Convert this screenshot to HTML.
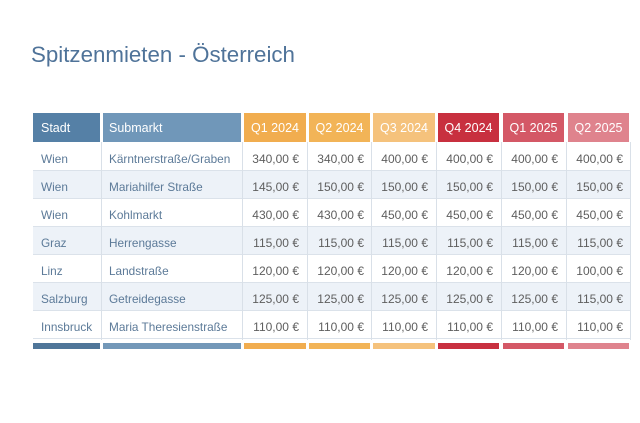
<!DOCTYPE html>
<html>
<head>
<meta charset="utf-8">
<style>
  html,body{margin:0;padding:0;background:#ffffff;}
  body{width:640px;height:423px;position:relative;overflow:hidden;font-family:"Liberation Sans",sans-serif;}
  .title{position:absolute;left:31px;top:42px;font-size:22.3px;color:#4f7399;white-space:nowrap;line-height:normal;}
  .h{position:absolute;top:113px;height:29px;line-height:30px;color:#fff;font-size:12.5px;white-space:nowrap;box-sizing:border-box;}
  .bar{position:absolute;top:343px;height:6px;}
  .row{position:absolute;left:33px;width:598px;height:28px;border-bottom:1px solid #dbe2ea;box-sizing:border-box;}
  .vl{position:absolute;top:142px;height:198px;width:1px;background:#d9e0e8;}
  .c{position:absolute;height:28px;line-height:33px;font-size:12px;white-space:nowrap;box-sizing:border-box;}
  .city{color:#5c7a98;font-size:11.8px;}
  .val{color:#5e5e5e;text-align:right;}
</style>
</head>
<body>
<div class="title">Spitzenmieten - Österreich</div>

<!-- headers -->
<div class="h" style="left:33px;width:67px;background:#5580a6;padding-left:8px;">Stadt</div>
<div class="h" style="left:103px;width:138px;background:#7097b9;padding-left:6px;">Submarkt</div>
<div class="h" style="left:244px;width:62px;background:#f1ad4f;text-align:center;">Q1 2024</div>
<div class="h" style="left:309px;width:61px;background:#f2b457;text-align:center;">Q2 2024</div>
<div class="h" style="left:373px;width:62px;background:#f5c27c;text-align:center;">Q3 2024</div>
<div class="h" style="left:438px;width:61px;background:#c8303f;text-align:center;">Q4 2024</div>
<div class="h" style="left:503px;width:61px;background:#d45866;text-align:center;">Q1 2025</div>
<div class="h" style="left:568px;width:61px;background:#df838d;text-align:center;">Q2 2025</div>

<!-- rows -->
<div class="row" style="top:143px;background:#ffffff;"></div>
<div class="row" style="top:171px;background:#edf2f8;"></div>
<div class="row" style="top:199px;background:#ffffff;"></div>
<div class="row" style="top:227px;background:#edf2f8;"></div>
<div class="row" style="top:255px;background:#ffffff;"></div>
<div class="row" style="top:283px;background:#edf2f8;"></div>
<div class="row" style="top:311px;background:#ffffff;"></div>

<!-- vertical lines -->
<div class="vl" style="left:101px;"></div>
<div class="vl" style="left:242px;"></div>
<div class="vl" style="left:307px;"></div>
<div class="vl" style="left:371px;"></div>
<div class="vl" style="left:436px;"></div>
<div class="vl" style="left:501px;"></div>
<div class="vl" style="left:566px;"></div>
<div class="vl" style="left:630px;"></div>

<!-- row 1 -->
<div class="c city" style="top:143px;left:41px;">Wien</div>
<div class="c city" style="top:143px;left:109px;">Kärntnerstraße/Graben</div>
<div class="c val" style="top:143px;left:244px;width:55px;">340,00 €</div>
<div class="c val" style="top:143px;left:309px;width:55px;">340,00 €</div>
<div class="c val" style="top:143px;left:373px;width:55px;">400,00 €</div>
<div class="c val" style="top:143px;left:438px;width:55px;">400,00 €</div>
<div class="c val" style="top:143px;left:503px;width:55px;">400,00 €</div>
<div class="c val" style="top:143px;left:568px;width:55px;">400,00 €</div>

<!-- row 2 -->
<div class="c city" style="top:171px;left:41px;">Wien</div>
<div class="c city" style="top:171px;left:109px;">Mariahilfer Straße</div>
<div class="c val" style="top:171px;left:244px;width:55px;">145,00 €</div>
<div class="c val" style="top:171px;left:309px;width:55px;">150,00 €</div>
<div class="c val" style="top:171px;left:373px;width:55px;">150,00 €</div>
<div class="c val" style="top:171px;left:438px;width:55px;">150,00 €</div>
<div class="c val" style="top:171px;left:503px;width:55px;">150,00 €</div>
<div class="c val" style="top:171px;left:568px;width:55px;">150,00 €</div>

<!-- row 3 -->
<div class="c city" style="top:199px;left:41px;">Wien</div>
<div class="c city" style="top:199px;left:109px;">Kohlmarkt</div>
<div class="c val" style="top:199px;left:244px;width:55px;">430,00 €</div>
<div class="c val" style="top:199px;left:309px;width:55px;">430,00 €</div>
<div class="c val" style="top:199px;left:373px;width:55px;">450,00 €</div>
<div class="c val" style="top:199px;left:438px;width:55px;">450,00 €</div>
<div class="c val" style="top:199px;left:503px;width:55px;">450,00 €</div>
<div class="c val" style="top:199px;left:568px;width:55px;">450,00 €</div>

<!-- row 4 -->
<div class="c city" style="top:227px;left:41px;">Graz</div>
<div class="c city" style="top:227px;left:109px;">Herrengasse</div>
<div class="c val" style="top:227px;left:244px;width:55px;">115,00 €</div>
<div class="c val" style="top:227px;left:309px;width:55px;">115,00 €</div>
<div class="c val" style="top:227px;left:373px;width:55px;">115,00 €</div>
<div class="c val" style="top:227px;left:438px;width:55px;">115,00 €</div>
<div class="c val" style="top:227px;left:503px;width:55px;">115,00 €</div>
<div class="c val" style="top:227px;left:568px;width:55px;">115,00 €</div>

<!-- row 5 -->
<div class="c city" style="top:255px;left:41px;">Linz</div>
<div class="c city" style="top:255px;left:109px;">Landstraße</div>
<div class="c val" style="top:255px;left:244px;width:55px;">120,00 €</div>
<div class="c val" style="top:255px;left:309px;width:55px;">120,00 €</div>
<div class="c val" style="top:255px;left:373px;width:55px;">120,00 €</div>
<div class="c val" style="top:255px;left:438px;width:55px;">120,00 €</div>
<div class="c val" style="top:255px;left:503px;width:55px;">120,00 €</div>
<div class="c val" style="top:255px;left:568px;width:55px;">100,00 €</div>

<!-- row 6 -->
<div class="c city" style="top:283px;left:41px;">Salzburg</div>
<div class="c city" style="top:283px;left:109px;">Getreidegasse</div>
<div class="c val" style="top:283px;left:244px;width:55px;">125,00 €</div>
<div class="c val" style="top:283px;left:309px;width:55px;">125,00 €</div>
<div class="c val" style="top:283px;left:373px;width:55px;">125,00 €</div>
<div class="c val" style="top:283px;left:438px;width:55px;">125,00 €</div>
<div class="c val" style="top:283px;left:503px;width:55px;">125,00 €</div>
<div class="c val" style="top:283px;left:568px;width:55px;">115,00 €</div>

<!-- row 7 -->
<div class="c city" style="top:311px;left:41px;">Innsbruck</div>
<div class="c city" style="top:311px;left:109px;">Maria Theresienstraße</div>
<div class="c val" style="top:311px;left:244px;width:55px;">110,00 €</div>
<div class="c val" style="top:311px;left:309px;width:55px;">110,00 €</div>
<div class="c val" style="top:311px;left:373px;width:55px;">110,00 €</div>
<div class="c val" style="top:311px;left:438px;width:55px;">110,00 €</div>
<div class="c val" style="top:311px;left:503px;width:55px;">110,00 €</div>
<div class="c val" style="top:311px;left:568px;width:55px;">110,00 €</div>

<!-- bottom bars -->
<div class="bar" style="left:33px;width:67px;background:#4f7699;"></div>
<div class="bar" style="left:103px;width:138px;background:#7398b8;"></div>
<div class="bar" style="left:244px;width:62px;background:#f1ad4f;"></div>
<div class="bar" style="left:309px;width:61px;background:#f2b457;"></div>
<div class="bar" style="left:373px;width:62px;background:#f5c27c;"></div>
<div class="bar" style="left:438px;width:61px;background:#c8303f;"></div>
<div class="bar" style="left:503px;width:61px;background:#d45866;"></div>
<div class="bar" style="left:568px;width:61px;background:#df838d;"></div>
</body>
</html>
